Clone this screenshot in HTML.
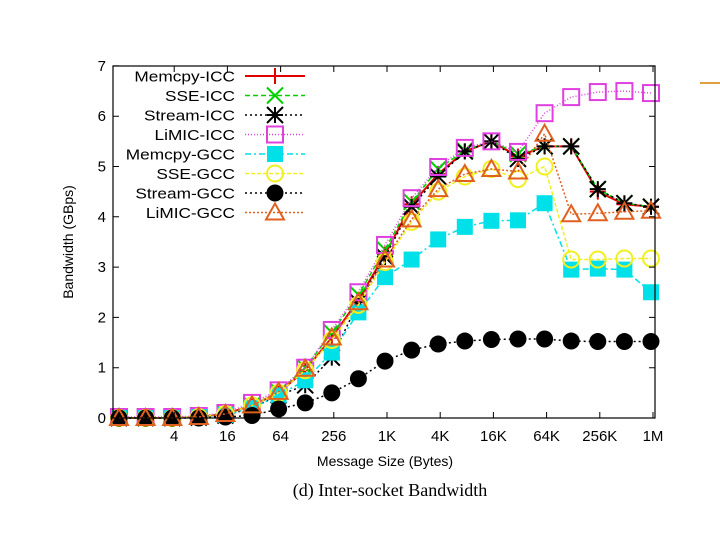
<!DOCTYPE html>
<html><head><meta charset="utf-8"><style>
body{margin:0;background:#fff;}
svg{display:block;font-family:"Liberation Sans",sans-serif;}
</style></head><body>
<svg id="chart" width="720" height="540" viewBox="0 0 720 540" xmlns="http://www.w3.org/2000/svg">
<rect x="0" y="0" width="720" height="540" fill="#fff"/>
<line x1="700" y1="83" x2="720" y2="83" stroke="#e0a040" stroke-width="2"/>
<g id="grid"></g>
<g id="series"></g>
<rect x="113" y="66" width="542" height="352" fill="none" stroke="#000" stroke-width="1.2"/>
<g id="ticks"></g>
<g id="legend"></g>
<text transform="translate(73,242) rotate(-90)" text-anchor="middle" font-size="14">Bandwidth (GBps)</text>
<text x="385" y="466" text-anchor="middle" font-size="14">Message Size (Bytes)</text>
<text x="390" y="496" text-anchor="middle" font-size="18" font-family="Liberation Serif, serif">(d) Inter-socket Bandwidth</text>
</svg>
<script>
const xTickIdx=[2,4,6,8,10,12,14,16,18,20];
const xTickLabels=["4","16","64","256","1K","4K","16K","64K","256K","1M"];
const yTicks=[0,1,2,3,4,5,6,7];
const seriesNames=["Memcpy-ICC","SSE-ICC","Stream-ICC","LiMIC-ICC","Memcpy-GCC","SSE-GCC","Stream-GCC","LiMIC-GCC"];
const memcpyICC=[0,0,0,0.02,0.08,0.25,0.5,0.95,1.6,2.35,3.25,4.25,4.85,5.3,5.5,5.2,5.4,5.4,4.5,4.25,4.2];
const sseICC=[0,0,0,0.02,0.08,0.25,0.52,1.0,1.7,2.45,3.35,4.3,4.95,5.32,5.5,5.25,5.4,5.4,4.55,4.27,4.2];
const streamICC=[0,0,0,0.01,0.05,0.2,0.45,0.65,1.2,2.3,3.2,4.2,4.8,5.3,5.5,5.15,5.4,5.4,4.55,4.27,4.2];
const limicICC=[0.02,0.02,0.02,0.04,0.1,0.3,0.55,1.0,1.75,2.5,3.44,4.37,4.99,5.37,5.5,5.29,6.06,6.38,6.48,6.5,6.46];
const memcpyGCC=[0,0,0,0.02,0.06,0.2,0.45,0.75,1.3,2.1,2.8,3.15,3.55,3.8,3.92,3.93,4.27,2.95,2.97,2.95,2.5];
const sseGCC=[0,0,0,0.02,0.08,0.25,0.5,0.95,1.55,2.25,3.1,3.9,4.5,4.8,4.95,4.75,5.0,3.15,3.15,3.17,3.17];
const streamGCC=[0,0,0,0,0.02,0.05,0.18,0.3,0.5,0.78,1.13,1.35,1.47,1.53,1.56,1.57,1.57,1.53,1.52,1.52,1.52];
const limicGCC=[0,0,0,0.02,0.08,0.25,0.52,0.98,1.6,2.3,3.15,3.95,4.55,4.85,4.95,4.9,5.65,4.05,4.07,4.1,4.12];
const allSeries=[memcpyICC,sseICC,streamICC,limicICC,memcpyGCC,sseGCC,streamGCC,limicGCC];
const colors=["#e00000","#00d000","#000","#e040e0","#00e0e8","#f0f020","#000","#e06020"];
const dashes=["", "5,3","2,3","1,2","6,3,2,3","4,2","2,3","2,2"];
const markers=["plus","x","star","square","fsquare","circle","fcircle","triangle"];
const NS="http://www.w3.org/2000/svg";
function xs(i){return 119+i*26.6;}
function ys(v){return 418-v*50.3;}
function mk(tag,attrs,parent){const e=document.createElementNS(NS,tag);for(const k in attrs)e.setAttribute(k,attrs[k]);parent.appendChild(e);return e;}
function marker(type,x,y,c,parent){
  const g=mk('g',{},parent);
  const s=8;
  if(type==="plus"){mk('path',{d:`M${x-s},${y}H${x+s}M${x},${y-s}V${y+s}`,stroke:c,'stroke-width':2},g);}
  else if(type==="x"){mk('path',{d:`M${x-s},${y-s}L${x+s},${y+s}M${x-s},${y+s}L${x+s},${y-s}`,stroke:c,'stroke-width':2},g);}
  else if(type==="star"){mk('path',{d:`M${x-s},${y}H${x+s}M${x},${y-s}V${y+s}M${x-s},${y-s}L${x+s},${y+s}M${x-s},${y+s}L${x+s},${y-s}`,stroke:c,'stroke-width':2},g);}
  else if(type==="square"){mk('rect',{x:x-s,y:y-s,width:2*s,height:2*s,fill:'none',stroke:c,'stroke-width':2},g);}
  else if(type==="fsquare"){mk('rect',{x:x-s,y:y-s,width:2*s,height:2*s,fill:c},g);}
  else if(type==="circle"){mk('circle',{cx:x,cy:y,r:s,fill:'none',stroke:c,'stroke-width':2},g);}
  else if(type==="fcircle"){mk('circle',{cx:x,cy:y,r:8.5,fill:c},g);}
  else if(type==="triangle"){mk('path',{d:`M${x},${y-s-1}L${x+s+1},${y+s-1}L${x-s-1},${y+s-1}Z`,fill:'none',stroke:c,'stroke-width':2},g);}
  return g;
}
const ticks=document.getElementById('ticks');
yTicks.forEach(v=>{
  const y=ys(v);
  const l=mk('path',{d:`M113,${y}h6M655,${y}h-6`,stroke:'#000'},ticks);
  
  
  const t=mk('text',{x:106,y:y+5,'text-anchor':'end','font-size':15},ticks);
  t.textContent=v;
  
  
});
xTickIdx.forEach((i,k)=>{
  const x=xs(i)+2;
  const l=mk('path',{d:`M${x},418v-6M${x},66v6`,stroke:'#000'},ticks);
  
  
  const t=mk('text',{x:x,y:441,'text-anchor':'middle','font-size':15},ticks);
  t.textContent=xTickLabels[k];
  
  
});
const sg=document.getElementById('series');
allSeries.forEach((d,si)=>{
  const g=mk('g',{},sg);
  
  
  const pts=d.map((v,i)=>xs(i)+','+ys(v)).join(' ');
  const attrs={points:pts,fill:'none',stroke:colors[si],'stroke-width':si===0?2:1.5};
  if(dashes[si])attrs['stroke-dasharray']=dashes[si];
  mk('polyline',attrs,g);
  d.forEach((v,i)=>{
    const m=marker(markers[si],xs(i),ys(v),colors[si],g);
    
    
  });
});
const lg=document.getElementById('legend');
seriesNames.forEach((n,k)=>{
  const y=76+k*19.5;
  const g=mk('g',{},lg);
  
  
  const t=mk('text',{x:0,y:0,'text-anchor':'end','font-size':15,transform:`translate(235,${y+5.5}) scale(1.15,1)`},g);
  t.textContent=n;
  const a={x1:245,y1:y,x2:305,y2:y,stroke:colors[k],'stroke-width':k===0?2:1.5};
  if(dashes[k])a['stroke-dasharray']=dashes[k];
  mk('line',a,g);
  marker(markers[k],275,y,colors[k],g);
});
</script>
</body></html>
